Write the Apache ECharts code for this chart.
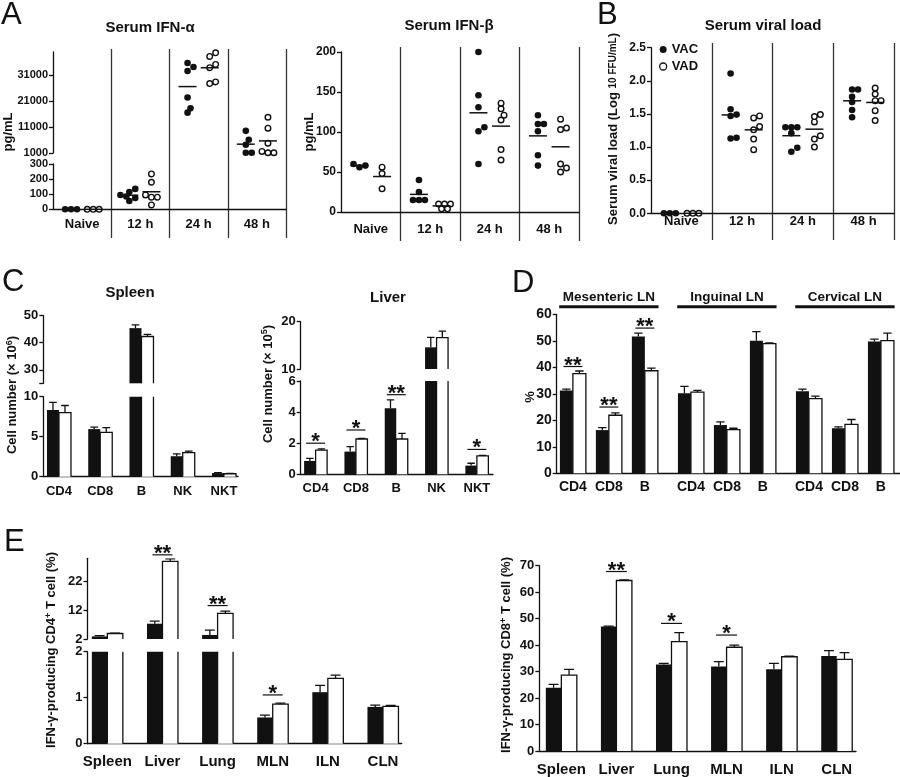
<!DOCTYPE html>
<html><head><meta charset="utf-8">
<script src="https://cdn.jsdelivr.net/npm/echarts@6/dist/echarts.min.js"></script>
<style>html,body{margin:0;padding:0;background:#fff}#c{width:900px;height:777px}</style>
</head><body><div id="c"></div>
<script>
// ---------------- data ----------------
const timeCats = ['Naive', '12 h', '24 h', '48 h'];
const ifnAlphaVAC = [[0, 0, 0], [135, 115, 95, 75, 55, 85], [35730, 34200, 32670, 22450, 18240, 16580], [6100, 9550, 4200, 1100, 1100]];
const ifnAlphaVAD = [[0, 0, 0], [234, 179, 95, 80, 80, 29], [39700, 38290, 35220, 33950, 27820, 28460], [14800, 10600, 4800, 1600, 1100, 1100]];
const ifnBetaVAC = [[60, 56, 58], [40, 25, 15, 15, 15], [200, 146, 131, 106, 101, 60], [121, 110, 110, 101, 71, 58]];
const ifnBetaVAD = [[56, 48, 29], [10, 10, 10, 4, 4], [136, 129, 121, 115, 78, 65], [105, 116, 103, 60, 55, 50]];
const viralVAC = [[0, 0, 0], [2.11, 1.57, 1.49, 1.47, 1.13, 1.14], [1.30, 1.30, 1.30, 1.21, 0.99, 0.93], [1.76, 1.87, 1.87, 1.68, 1.56, 1.45]];
const viralVAD = [[0, 0, 0], [1.47, 1.44, 1.31, 1.26, 1.12, 0.96], [1.49, 1.46, 1.38, 1.17, 1.12, 1.00], [1.89, 1.80, 1.70, 1.70, 1.55, 1.40]];

const cellCats = ['CD4', 'CD8', 'B', 'NK', 'NKT'];
const spleenVAC = [8.35, 5.95, 45.4, 2.56, 0.45];
const spleenVACErr = [0.95, 0.25, 1.2, 0.3, 0.06];
const spleenVAD = [8.0, 5.54, 42.3, 3.0, 0.37];
const spleenVADErr = [0.9, 0.6, 0.8, 0.2, 0.05];

const liverVAC = [0.86, 1.46, 4.24, 14.58, 0.56];
const liverVACErr = [0.17, 0.32, 0.54, 2.1, 0.15];
const liverVAD = [1.56, 2.27, 2.27, 16.62, 1.18];
const liverVADErr = [0.08, 0.04, 0.36, 1.4, 0.04];
const liverSigCats = ['CD4', 'CD8', 'B', 'NKT'];
const liverSigY = [2.0, 2.85, 5.12, 1.6];
const liverSigMarks = ['*', '*', '**', '*'];

const lnGroups = ['Mesenteric LN', 'Inguinal LN', 'Cervical LN'];
const lnCats = ['CD4', 'CD8', 'B'];
const lnVAC = [[31.2, 16.3, 51.6], [30.2, 18.2, 50.0], [31.0, 17.0, 49.7]];
const lnVACErr = [[0.6, 0.9, 1.3], [2.6, 1.2, 3.5], [0.8, 0.5, 0.9]];
const lnVAD = [[37.6, 21.9, 38.7], [30.6, 16.5, 48.9], [28.2, 18.5, 50.1]];
const lnVADErr = [[1.0, 0.9, 1.0], [0.7, 0.5, 0.3], [0.9, 1.8, 2.8]];
const lnSigGroup = [0, 0, 0];
const lnSigCat = ['CD4', 'CD8', 'B'];
const lnSigY = [40.3, 25.0, 54.8];
const lnSigMarks = ['**', '**', '**'];

const organCats = ['Spleen', 'Liver', 'Lung', 'MLN', 'ILN', 'CLN'];
const cd4VAC = [2.9, 7.3, 3.4, 0.57, 1.12, 0.80];
const cd4VACErr = [0.3, 0.9, 1.7, 0.05, 0.15, 0.04];
const cd4VAD = [3.9, 28.9, 10.9, 0.86, 1.42, 0.81];
const cd4VADErr = [0.1, 0.9, 0.8, 0.02, 0.07, 0.02];
const cd4SigCats = ['Liver', 'Lung', 'MLN'];
const cd4SigY = [31.2, 13.6, 1.06];
const cd4SigMarks = ['**', '**', '*'];

const cd8VAC = [23.9, 47.0, 32.7, 31.9, 30.9, 35.9];
const cd8VACErr = [1.3, 0.2, 0.4, 1.9, 2.2, 2.0];
const cd8VAD = [28.7, 64.4, 41.3, 39.2, 35.6, 34.6];
const cd8VADErr = [2.1, 0.2, 3.4, 0.8, 0.2, 2.6];
const cd8SigCats = ['Liver', 'Lung', 'MLN'];
const cd8SigY = [67.8, 48.2, 43.8];
const cd8SigMarks = ['**', '*', '*'];

// ---------------- helpers ----------------
const FONT = '"Liberation Sans", Arial, Helvetica, sans-serif';
const INK = '#111';
const SEP = '#333';
const LINE = {color: INK, width: 1.3};
const grid = [], xAxis = [], yAxis = [], series = [];

function mean(a) { return a.reduce((s, v) => s + v, 0) / a.length; }
function labelStyle(fs, margin) {
  return {show: true, color: INK, fontFamily: FONT, fontWeight: 'bold', fontSize: fs, margin: margin};
}
function addGrid(r) {
  grid.push({left: r.left, top: r.top, width: r.width, height: r.height, containLabel: false, outerBoundsMode: 'none', show: false});
  return grid.length - 1;
}
function addYAxis(gi, s) {
  const ax = {
    type: 'value', gridIndex: gi, min: s.min, max: s.max,
    axisLine: {show: true, onZero: false, lineStyle: LINE},
    axisTick: {show: true, length: 4, lineStyle: LINE},
    axisLabel: labelStyle(s.fs, 5),
    splitLine: {show: false}
  };
  if (s.interval != null) ax.interval = s.interval;
  if (s.ticks) { ax.axisTick.customValues = s.ticks; ax.axisLabel.customValues = s.labels || s.ticks; }
  ax.axisLabel.formatter = s.fmt || (v => String(v));
  yAxis.push(ax);
  return yAxis.length - 1;
}

function dotRenderer(values, side, lo, hi) {
  return function (params, api) {
    const ci = params.dataIndex;
    const list = values[ci];
    const band = api.size([1, 0])[0];
    const cx = api.coord([ci, lo])[0] + side * band * 0.19;
    const r = 3.3;
    const inside = v => v >= lo - 1e-9 && v <= hi + 1e-9;
    const ys = list.filter(inside).map(v => api.coord([ci, v])[1]).sort((a, b) => b - a);
    const placed = [];
    ys.forEach(py => {
      for (let k = 0; k < 15; k++) {
        const step = Math.ceil(k / 2) * (k % 2 ? 1 : -1);
        const px = cx + step * r * 0.9;
        if (placed.every(p => Math.hypot(p[0] - px, p[1] - py) >= 1.55 * r)) { placed.push([px, py]); break; }
      }
    });
    const children = placed.map(p => ({
      type: 'circle', shape: {cx: p[0], cy: p[1], r: side < 0 ? r : r - 0.5},
      style: side < 0 ? {fill: INK} : {fill: '#fff', stroke: INK, lineWidth: 1.4}
    }));
    const m = mean(list);
    if (inside(m)) {
      const my = api.coord([ci, m])[1];
      children.push({type: 'line', shape: {x1: cx - 9, y1: my, x2: cx + 9, y2: my}, style: {stroke: INK, lineWidth: 1.5}});
    }
    return {type: 'group', children: children};
  };
}

function dotPanel(cfg) {
  const n = cfg.cats.length;
  cfg.segments.forEach((s, k) => {
    const gi = addGrid(s.rect);
    const bottom = k === cfg.segments.length - 1;
    xAxis.push({
      type: 'category', gridIndex: gi, data: cfg.cats, show: bottom, boundaryGap: true,
      axisLine: {show: true, onZero: false, lineStyle: LINE}, axisTick: {show: false}, splitLine: {show: false},
      axisLabel: labelStyle(cfg.catFs, cfg.catMargin)
    });
    const xi = xAxis.length - 1;
    const yi = addYAxis(gi, s);
    [[cfg.vac, -1, 'VAC'], [cfg.vad, 1, 'VAD']].forEach(([vals, side, name]) => {
      series.push({
        type: 'custom', name: name, xAxisIndex: xi, yAxisIndex: yi, silent: true, z: 3,
        data: vals.map((l, i) => [i, mean(l)]), renderItem: dotRenderer(vals, side, s.min, s.max)
      });
    });
  });
  const gi = addGrid(cfg.sepRect);
  xAxis.push({
    type: 'value', gridIndex: gi, min: 0, max: n, interval: 1,
    axisLine: {show: false}, axisTick: {show: false}, axisLabel: {show: false},
    splitLine: {show: true, showMinLine: false, showMaxLine: true, lineStyle: {color: SEP, width: 1.3}}
  });
  yAxis.push({type: 'value', gridIndex: gi, min: 0, max: 1, show: false});
}

function barPanel(cfg) {
  const labelMap = new Map(cfg.positions.map((p, i) => [p, cfg.labels[i]]));
  cfg.segments.forEach((s, k) => {
    const gi = addGrid(s.rect);
    const bottom = k === cfg.segments.length - 1;
    xAxis.push({
      type: 'value', gridIndex: gi, min: cfg.xMin, max: cfg.xMax, show: bottom,
      axisLine: {show: true, onZero: false, lineStyle: LINE}, axisTick: {show: false}, splitLine: {show: false},
      axisLabel: Object.assign(labelStyle(cfg.catFs, cfg.catMargin), {
        customValues: cfg.positions,
        formatter: v => (labelMap.has(v) ? labelMap.get(v) : '')
      })
    });
    const xi = xAxis.length - 1;
    const yi = addYAxis(gi, s);
    const pairs = [[cfg.vac, cfg.vacErr, -1, 'VAC'], [cfg.vad, cfg.vadErr, 1, 'VAD']];
    pairs.forEach(([vals, errs, side, name]) => {
      series.push({
        type: 'bar', name: name, xAxisIndex: xi, yAxisIndex: yi, barWidth: cfg.bw, barGap: '0%', clip: true, silent: true,
        data: cfg.positions.map((p, i) => [p, vals[i]]),
        itemStyle: side < 0 ? {color: INK, borderWidth: 0} : {color: '#fff', borderWidth: 0}
      });
    });
    // error bars (and the outline of the open bars), clipped to the grid by a clip path
    pairs.forEach(([vals, errs, side, name]) => {
      series.push({
        type: 'custom', name: name, xAxisIndex: xi, yAxisIndex: yi, clip: true, silent: true, z: 4,
        data: cfg.positions.map((p, i) => [p, vals[i]]),
        renderItem: (params, api) => {
          const e = errs[params.dataIndex];
          const p = api.value(0), v = api.value(1);
          const a = api.coord([p, v]), b = api.coord([p, v + e]), z0 = api.coord([p, 0]);
          const x = a[0] + side * cfg.bw / 2;
          const cap = cfg.bw * 0.32;
          const children = [];
          if (side > 0) {
            const xl = a[0], xr = a[0] + cfg.bw;
            children.push({type: 'polyline', shape: {points: [[xl, z0[1]], [xl, a[1]], [xr, a[1]], [xr, z0[1]]]},
              style: {stroke: INK, lineWidth: 1.3, fill: null}});
          }
          children.push({type: 'line', shape: {x1: x, y1: a[1], x2: x, y2: b[1]}, style: {stroke: INK, lineWidth: 1.3}});
          children.push({type: 'line', shape: {x1: x - cap, y1: b[1], x2: x + cap, y2: b[1]}, style: {stroke: INK, lineWidth: 1.3}});
          return {type: 'group', children: children};
        }
      });
    });
    if (cfg.sig) {
      const mine = [];
      cfg.sig.y.forEach((y, i) => {
        const seg = cfg.segments.findIndex(ss => y >= ss.min);
        if (seg === k) mine.push(i);
      });
      if (mine.length) {
        series.push({
          type: 'custom', name: 'sig', xAxisIndex: xi, yAxisIndex: yi, clip: false, silent: true, z: 5,
          data: mine.map(i => [cfg.sig.pos[i], cfg.sig.y[i], i]),
          renderItem: (params, api) => {
            const c = api.coord([api.value(0), api.value(1)]);
            const w = cfg.sigW;
            const mark = cfg.sig.marks[api.value(2)];
            return {type: 'group', children: [
              {type: 'line', shape: {x1: c[0] - w / 2, y1: c[1], x2: c[0] + w / 2, y2: c[1]}, style: {stroke: INK, lineWidth: 1.2}},
              {type: 'text', style: {text: mark, x: c[0], y: c[1] - 1, font: 'bold 22px ' + FONT, fill: INK,
                align: 'center', verticalAlign: 'middle', textAlign: 'center', textVerticalAlign: 'middle'}}
            ]};
          }
        });
      }
    }
    if (cfg.headers && k === 0) {
      series.push({
        type: 'custom', name: 'hdr', xAxisIndex: xi, yAxisIndex: yi, clip: false, silent: true, z: 5,
        data: cfg.headers.map((h, i) => [cfg.headerCenters[i], s.max, i]),
        renderItem: (params, api) => {
          const c = api.coord([api.value(0), api.value(1)]);
          const l = api.coord([api.value(0) - cfg.headerHalf, api.value(1)]);
          const r = api.coord([api.value(0) + cfg.headerHalf, api.value(1)]);
          return {type: 'group', children: [
            {type: 'line', shape: {x1: l[0], y1: c[1] - 7.5, x2: r[0], y2: c[1] - 7.5}, style: {stroke: INK, lineWidth: 3}},
            {type: 'text', style: {text: cfg.headers[api.value(2)], x: c[0], y: c[1] - 17, font: 'bold 13.5px ' + FONT, fill: INK,
              align: 'center', verticalAlign: 'middle', textAlign: 'center', textVerticalAlign: 'middle'}}
          ]};
        }
      });
    }
  });
}

// ---------------- panels ----------------
// A: IFN-alpha (broken axis)
dotPanel({
  cats: timeCats, vac: ifnAlphaVAC, vad: ifnAlphaVAD, catFs: 13, catMargin: 9,
  segments: [
    {rect: {left: 53, top: 52, width: 233, height: 101}, min: 1000, max: 40000, fs: 11,
      ticks: [1000, 11000, 21000, 31000]},
    {rect: {left: 53, top: 164, width: 233, height: 45.3}, min: 0, max: 300, interval: 100, fs: 11}
  ],
  sepRect: {left: 53, top: 49, width: 233, height: 189}
});
// A: IFN-beta
dotPanel({
  cats: timeCats, vac: ifnBetaVAC, vad: ifnBetaVAD, catFs: 13, catMargin: 11,
  segments: [{rect: {left: 341, top: 52, width: 238, height: 160}, min: 0, max: 200, interval: 50, fs: 12}],
  sepRect: {left: 341, top: 47, width: 238, height: 194}
});
// B: viral load
dotPanel({
  cats: timeCats, vac: viralVAC, vad: viralVAD, catFs: 13, catMargin: 2,
  segments: [{rect: {left: 651, top: 47.7, width: 243, height: 165.6}, min: 0, max: 2.5, interval: 0.5, fs: 12,
    fmt: v => v.toFixed(1)}],
  sepRect: {left: 651, top: 43, width: 243, height: 197}
});
// C: spleen
const cellPos = cellCats.map((c, i) => i);
barPanel({
  positions: cellPos, labels: cellCats, vac: spleenVAC, vacErr: spleenVACErr, vad: spleenVAD, vadErr: spleenVADErr,
  xMin: -0.38, xMax: 4.34, bw: 12, catFs: 13, catMargin: 8,
  segments: [
    {rect: {left: 43.3, top: 315.7, width: 194.7, height: 67.6}, min: 25, max: 50, fs: 13, ticks: [25, 30, 40, 50], labels: [30, 40, 50]},
    {rect: {left: 43.3, top: 396.7, width: 194.7, height: 80}, min: 0, max: 10, interval: 5, fs: 13}
  ]
});
// C: liver
barPanel({
  positions: cellPos, labels: cellCats, vac: liverVAC, vacErr: liverVACErr, vad: liverVAD, vadErr: liverVADErr,
  xMin: -0.37, xMax: 4.4, bw: 11.5, catFs: 13, catMargin: 7.5, sigW: 19,
  sig: {pos: liverSigCats.map(c => cellCats.indexOf(c)), y: liverSigY, marks: liverSigMarks},
  segments: [
    {rect: {left: 300.7, top: 321.7, width: 192.3, height: 47.3}, min: 10, max: 20, interval: 10, fs: 13},
    {rect: {left: 300.7, top: 381, width: 192.3, height: 93.3}, min: 0, max: 6, interval: 2, fs: 13}
  ]
});
// D: lymph nodes
const GROUP_STEP = 3.28;
const lnPos = [], lnLabels = [];
lnGroups.forEach((g, gi) => lnCats.forEach((c, ci) => { lnPos.push(gi * GROUP_STEP + ci); lnLabels.push(c); }));
const flat = a => a.reduce((o, r) => o.concat(r), []);
barPanel({
  positions: lnPos, labels: lnLabels, vac: flat(lnVAC), vacErr: flat(lnVACErr), vad: flat(lnVAD), vadErr: flat(lnVADErr),
  xMin: -0.45, xMax: 9.09, bw: 13, catFs: 14, catMargin: 7, sigW: 19,
  sig: {pos: lnSigGroup.map((g, i) => g * GROUP_STEP + lnCats.indexOf(lnSigCat[i])), y: lnSigY, marks: lnSigMarks},
  headers: lnGroups, headerCenters: lnGroups.map((g, gi) => gi * GROUP_STEP + 1), headerHalf: 1.38,
  segments: [{rect: {left: 556.7, top: 314.3, width: 343.3, height: 159}, min: 0, max: 60, interval: 10, fs: 14}]
});
// E: CD4 (broken axis)
const organPos = organCats.map((c, i) => i);
barPanel({
  positions: organPos, labels: organCats, vac: cd4VAC, vacErr: cd4VACErr, vad: cd4VAD, vadErr: cd4VADErr,
  xMin: -0.36, xMax: 5.34, bw: 15.5, catFs: 15, catMargin: 11, sigW: 20,
  sig: {pos: cd4SigCats.map(c => organCats.indexOf(c)), y: cd4SigY, marks: cd4SigMarks},
  segments: [
    {rect: {left: 87.5, top: 558.3, width: 314.2, height: 80.7}, min: 2, max: 30, fs: 13, ticks: [2, 12, 22]},
    {rect: {left: 87.5, top: 651.7, width: 314.2, height: 92}, min: 0, max: 2, interval: 1, fs: 13}
  ]
});
// E: CD8
barPanel({
  positions: organPos, labels: organCats, vac: cd8VAC, vacErr: cd8VACErr, vad: cd8VAD, vadErr: cd8VADErr,
  xMin: -0.4, xMax: 5.35, bw: 15.5, catFs: 15, catMargin: 11, sigW: 21,
  sig: {pos: cd8SigCats.map(c => organCats.indexOf(c)), y: cd8SigY, marks: cd8SigMarks},
  segments: [{rect: {left: 539.3, top: 565.7, width: 316.7, height: 185.3}, min: 0, max: 70, interval: 10, fs: 13}]
});

// ---------------- texts ----------------
function letter(t, left, top) {
  return {text: t, left: left, top: top, padding: 0, textStyle: {fontFamily: FONT, fontSize: 31, fontWeight: 'normal', color: INK}};
}
function ptitle(t, cx, top) {
  return {text: t, left: cx, top: top, textAlign: 'center', padding: 0, textStyle: {fontFamily: FONT, fontSize: 15, fontWeight: 'bold', color: INK}};
}
function yName(t, x, y, rich) {
  const style = {text: t, x: 0, y: 0, font: 'bold 13px ' + FONT, fill: INK, align: 'center', verticalAlign: 'middle', textAlign: 'center', textVerticalAlign: 'middle'};
  if (rich) style.rich = rich;
  return {type: 'text', x: x, y: y, rotation: Math.PI / 2, silent: true, style: style};
}
const richBase = {
  n: {fontFamily: FONT, fontWeight: 'bold', fontSize: 13, lineHeight: 16, color: INK},
  s: {fontFamily: FONT, fontWeight: 'bold', fontSize: 9, lineHeight: 16, verticalAlign: 'top', color: INK, padding: [0, 0, 6, 0]},
  m: {fontFamily: FONT, fontWeight: 'bold', fontSize: 10, lineHeight: 16, color: INK}
};

const option = {
  animation: false,
  backgroundColor: '#fff',
  title: [
    letter('A', 1, 0), letter('B', 597, 0), letter('C', 2, 267), letter('D', 512, 268), letter('E', 4, 527),
    ptitle('Serum IFN-α', 150, 20), ptitle('Serum IFN-β', 449, 18), ptitle('Serum viral load', 763, 18),
    ptitle('Spleen', 130, 285), ptitle('Liver', 388, 290)
  ],
  legend: {
    show: true, orient: 'vertical', left: 659, top: 43, itemWidth: 7, itemHeight: 7, itemGap: 4, padding: 0,
    selectedMode: false,
    textStyle: {fontFamily: FONT, fontWeight: 'bold', fontSize: 13, color: INK},
    data: [
      {name: 'VAC', icon: 'circle', itemStyle: {color: INK, borderWidth: 0}},
      {name: 'VAD', icon: 'circle', itemStyle: {color: '#fff', borderColor: INK, borderWidth: 1.3}}
    ]
  },
  grid: grid, xAxis: xAxis, yAxis: yAxis, series: series,
  graphic: [
    yName('pg/mL', 8.5, 132),
    yName('pg/mL', 309, 132),
    yName('{n|Serum viral load (Log }{m|10 FFU/mL}{n|)}', 613.5, 129, richBase),
    yName('{n|Cell number (× 10}{s|6}{n|)}', 12.7, 395, richBase),
    yName('{n|Cell number (× 10}{s|5}{n|)}', 268.3, 384, richBase),
    yName('%', 530, 397),
    yName('{n|IFN-γ-producing CD4}{s|+}{n| T cell (%)}', 51.7, 650, richBase),
    yName('{n|IFN-γ-producing CD8}{s|+}{n| T cell (%)}', 506.7, 655, richBase)
  ]
};
const chart = echarts.init(document.getElementById('c'), null, {renderer: 'canvas', width: 900, height: 777});
chart.setOption(option);
</script>
</body></html>
